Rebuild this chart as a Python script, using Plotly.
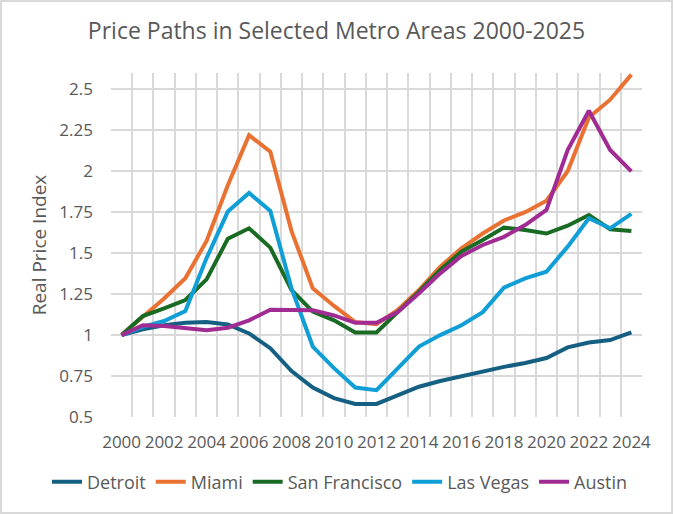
import plotly.graph_objects as go

# données (indice de prix réel, base 2000 = 1)
annees = list(range(2000, 2025))

detroit = [1.0, 1.035, 1.06, 1.075, 1.08, 1.065, 1.01, 0.92, 0.78, 0.68, 0.615, 0.58, 0.58,
           0.633, 0.685, 0.72, 0.75, 0.78, 0.806, 0.83, 0.86, 0.925, 0.955, 0.97, 1.016]
miami = [1.0, 1.108, 1.224, 1.347, 1.575, 1.915, 2.22, 2.12, 1.635, 1.285, 1.178, 1.08, 1.067,
         1.153, 1.275, 1.418, 1.53, 1.62, 1.70, 1.75, 1.82, 2.0, 2.328, 2.437, 2.59]
san_francisco = [1.0, 1.116, 1.163, 1.214, 1.34, 1.588, 1.652, 1.534, 1.275, 1.143, 1.09, 1.016, 1.016,
                 1.14, 1.265, 1.397, 1.51, 1.58, 1.656, 1.642, 1.62, 1.668, 1.733, 1.646, 1.636]
las_vegas = [1.0, 1.05, 1.086, 1.147, 1.47, 1.754, 1.868, 1.758, 1.285, 0.93, 0.798, 0.68, 0.664,
             0.80, 0.93, 1.0, 1.06, 1.14, 1.29, 1.346, 1.387, 1.54, 1.713, 1.652, 1.74]
austin = [1.0, 1.06, 1.055, 1.04, 1.03, 1.045, 1.09, 1.155, 1.155, 1.152, 1.12, 1.075, 1.075,
          1.14, 1.255, 1.377, 1.483, 1.55, 1.60, 1.672, 1.764, 2.13, 2.37, 2.13, 2.0]

villes = ['Detroit', 'Miami', 'San Francisco', 'Las Vegas', 'Austin']
series = [detroit, miami, san_francisco, las_vegas, austin]
couleurs = ['#156082', '#E97132', '#196B24', '#0F9ED5', '#A02B93']

y_ticks = [0.5, 0.75, 1, 1.25, 1.5, 1.75, 2, 2.25, 2.5]
y_labels = ['0.5', '0.75', '1', '1.25', '1.5', '1.75', '2', '2.25', '2.5']
x_ticks = list(range(2000, 2025, 2))

police = 'Open Sans'
gris_texte = '#595959'
gris_grille = '#D9D9D9'

figure = go.Figure()
for nom, valeurs, couleur in zip(villes, series, couleurs):
    figure.add_trace(go.Scatter(x=annees, y=valeurs, name=nom, mode='lines',
                                line=dict(color=couleur, width=4)))

L, R, T, B = 111, 31, 73, 97
W, H = 673, 514
pw, ph = W - L - R, H - T - B

figure.update_layout(
    width=W, height=H,
    margin=dict(l=L, r=R, t=T, b=B),
    paper_bgcolor='white', plot_bgcolor='white',
    font=dict(family=police, color=gris_texte, size=16),
    title=dict(text='Price Paths in Selected Metro Areas 2000-2025', x=0.5, xref='container',
               xanchor='center', y=1 - 31 / H, yanchor='middle',
               font=dict(size=23, color=gris_texte, family=police)),
    # ancrée à gauche sous le graphique pour que la légende tienne sur une ligne
    legend=dict(orientation='h', x=(47 - L) / pw, xanchor='left',
                y=-(482 - (H - B)) / ph, yanchor='middle', font=dict(size=18), itemwidth=30,
                tracegroupgap=0),
    xaxis=dict(range=[1999.5, 2024.5], tickvals=x_ticks, showgrid=False, zeroline=False,
               ticks='', tickfont=dict(size=17), ticklabelstandoff=13,
               minor=dict(tick0=1999.5, dtick=1, showgrid=True, gridcolor=gris_grille, gridwidth=1.5)),
    yaxis=dict(range=[0.5, 2.6], tickvals=y_ticks, ticktext=y_labels, showgrid=True,
               gridcolor=gris_grille, gridwidth=1.5, zeroline=False, ticks='',
               tickfont=dict(size=17), ticklabelstandoff=17,
               title=dict(text='Real Price Index', font=dict(size=19), standoff=7)),
    shapes=[dict(type='rect', xref='paper', yref='paper',
                 x0=-(L - 1) / pw, x1=1 + (R - 1) / pw, y0=-(B - 1) / ph, y1=1 + (T - 1) / ph,
                 line=dict(color=gris_grille, width=2), fillcolor='rgba(0,0,0,0)', layer='below')],
)

# la page ajoute 8 px de marge autour du graphique : on la retire
figure.write_html('out.html', config={'displayModeBar': False},
                  post_script="document.body.style.margin = '0px';")
print('fichier généré avec succès !')
